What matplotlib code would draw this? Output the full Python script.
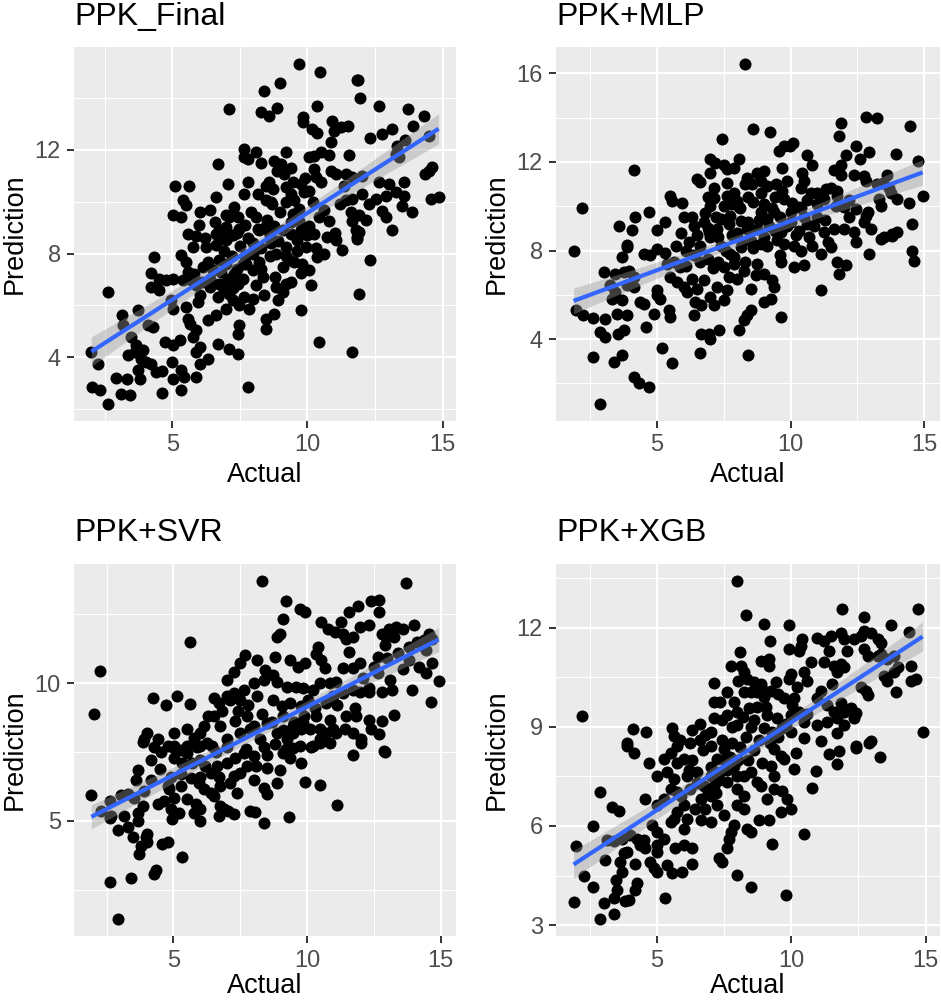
import numpy as np
import matplotlib.pyplot as plt
from matplotlib.ticker import FixedLocator

plt.rcParams['font.family'] = ['Liberation Sans', 'DejaVu Sans']

# (actual, prediction) pairs
final_pts = [
    (9.67, 15.32), (10.45, 15.02), (11.82, 14.71), (11.88, 14.71), (11.93, 13.99), (9.0, 14.57), (8.38, 14.29),
    (7.11, 13.58), (10.37, 13.71), (8.28, 13.45), (8.59, 13.32), (8.87, 13.61), (9.84, 13.29), (9.84, 13.07),
    (10.18, 12.81), (10.37, 12.66), (12.64, 13.71), (13.72, 13.58), (14.3, 13.3), (13.9, 12.94), (13.13, 12.81),
    (12.76, 12.62), (12.33, 12.46), (10.92, 13.13), (11.23, 12.87), (11.51, 12.94), (10.98, 12.75), (10.86, 12.3),
    (11.53, 11.82), (13.32, 12.17), (13.62, 12.39), (13.38, 11.72), (13.26, 11.85), (14.48, 12.55), (7.67, 12.04),
    (8.1, 11.91), (7.79, 11.65), (7.67, 11.72), (9.2, 11.91), (10.49, 11.91), (10.8, 11.82), (10.25, 11.78),
    (10.06, 11.72), (8.77, 11.59), (9.02, 11.46), (8.89, 11.2), (9.14, 11.07), (6.68, 11.46), (7.79, 10.75),
    (7.05, 10.69), (8.59, 10.75), (8.71, 10.5), (8.46, 10.62), (10.25, 11.27), (10.31, 10.95), (10.49, 10.75),
    (10.86, 11.2), (11.04, 11.07), (11.41, 11.07), (11.66, 10.95), (12.03, 11.01), (12.64, 10.75), (13.01, 10.69),
    (14.48, 11.2), (14.61, 11.33), (14.36, 11.07), (13.56, 10.75), (5.12, 10.62), (5.61, 10.62), (5.39, 10.05),
    (5.52, 9.89), (6.01, 9.59), (6.62, 10.17), (7.67, 10.3), (8.16, 10.3), (8.46, 10.05), (8.65, 9.98), (9.2, 10.56),
    (9.45, 10.75), (9.39, 10.3), (9.75, 10.69), (9.88, 10.37), (10.06, 10.43), (9.2, 9.98), (9.5, 10.05), (9.69, 9.72),
    (11.35, 10.62), (11.41, 10.05), (11.66, 10.11), (12.03, 10.3), (12.27, 9.92), (12.52, 10.11), (12.89, 10.24),
    (13.26, 10.37), (13.56, 10.24), (14.55, 10.11), (14.85, 10.17), (12.76, 9.66), (12.89, 9.4), (13.5, 9.85),
    (13.87, 9.59), (5.02, 9.47), (5.33, 9.4), (5.58, 8.76), (5.88, 8.69), (7.11, 9.4), (7.42, 9.4), (7.48, 8.95),
    (6.99, 9.02), (6.74, 8.89), (6.62, 8.76), (7.11, 8.69), (8.16, 8.95), (8.46, 9.08), (8.77, 9.08), (8.53, 8.89),
    (9.45, 9.53), (9.69, 9.27), (9.75, 8.89), (9.39, 8.76), (10.06, 9.08), (10.43, 9.4), (10.8, 9.27), (11.6, 9.59),
    (11.66, 9.27), (11.78, 8.89), (11.84, 8.57), (11.9, 9.5), (12.15, 9.3), (13.13, 8.89), (5.76, 8.24), (6.25, 8.24),
    (2.01, 4.19), (2.26, 3.74), (2.05, 2.86), (2.32, 2.74), (2.63, 2.19), (2.63, 6.52), (3.12, 2.58), (3.45, 2.52),
    (2.94, 3.19), (3.33, 3.14), (3.16, 5.61), (3.19, 5.23), (3.73, 5.81), (3.49, 4.77), (3.67, 4.45), (3.37, 4.06),
    (3.61, 4.19), (3.92, 4.26), (3.86, 3.94), (3.73, 3.48), (3.8, 3.16), (4.04, 3.81), (4.23, 3.74), (4.41, 3.42),
    (4.63, 3.46), (4.63, 2.61), (4.1, 5.23), (4.29, 5.16), (4.23, 6.71), (4.53, 6.58), (4.31, 7.87), (4.23, 7.23),
    (4.53, 7.03), (4.78, 6.97), (5.02, 7.03), (4.72, 4.58), (5.02, 4.45), (5.27, 4.65), (5.0, 3.81), (5.02, 3.16),
    (5.33, 3.48), (5.45, 3.23), (5.33, 2.74), (4.96, 6.19), (5.02, 5.87), (5.33, 7.94), (5.52, 7.68), (5.58, 7.29),
    (5.39, 6.97), (5.7, 6.97), (5.52, 5.94), (5.58, 5.48), (5.64, 5.29), (5.88, 6.77), (6.01, 6.39), (5.95, 6.13),
    (5.88, 5.03), (5.76, 4.77), (6.01, 4.39), (5.88, 4.19), (6.01, 3.74), (5.88, 3.23), (6.31, 3.94), (6.31, 5.42),
    (6.62, 5.61), (6.68, 4.52), (6.13, 7.48), (6.31, 7.68), (6.5, 7.35), (6.74, 7.74), (6.99, 7.61), (6.62, 8.32),
    (6.99, 8.52), (7.24, 8.71), (6.38, 6.71), (6.74, 6.84), (7.11, 6.45), (7.24, 6.65), (7.42, 6.84), (6.99, 5.87),
    (7.24, 6.19), (7.48, 6.0), (7.67, 6.32), (7.85, 5.87), (7.97, 6.26), (7.11, 4.32), (7.42, 4.13), (7.42, 4.9),
    (7.48, 5.23), (7.79, 2.84), (7.73, 7.61), (7.97, 7.35), (8.22, 7.68), (8.34, 7.1), (8.1, 6.77), (8.46, 5.48),
    (8.46, 5.1), (8.77, 5.68), (8.65, 8.39), (8.83, 8.0), (9.2, 8.26), (9.33, 7.74), (9.08, 7.48), (8.83, 6.71),
    (9.08, 6.52), (9.2, 6.84), (9.63, 8.52), (10.0, 8.71), (10.25, 8.77), (9.94, 8.26), (9.51, 7.68), (9.75, 7.23),
    (10.06, 7.35), (10.12, 6.77), (9.75, 5.81), (10.43, 4.58), (10.37, 7.87), (10.61, 8.0), (10.74, 8.65),
    (11.04, 8.52), (11.29, 8.13), (11.84, 8.65), (11.9, 8.84), (12.33, 7.74), (11.9, 6.45), (11.66, 4.19),
    (6.9, 8.1), (7.2, 7.9), (7.5, 8.3), (7.8, 8.6), (8.0, 8.0), (7.3, 7.2), (7.6, 7.0), (6.8, 7.3), (7.0, 6.9),
    (8.2, 8.9), (8.5, 9.3), (7.9, 9.6), (7.3, 9.8), (6.6, 9.2), (6.2, 8.6), (6.9, 8.6), (7.6, 7.6), (8.3, 7.4),
    (8.8, 7.1), (9.2, 7.9), (9.6, 8.1), (8.6, 8.7),
    (5.8, 7.2), (6.1, 6.9), (6.4, 7.0), (6.7, 6.3), (6.9, 6.6), (7.1, 7.0), (7.4, 7.4), (7.7, 7.9), (8.0, 8.4),
    (8.3, 8.2), (8.6, 7.9), (8.9, 8.5), (9.1, 8.9), (9.4, 9.2), (9.0, 9.6), (8.7, 9.9), (8.1, 9.4), (7.7, 9.1),
    (7.4, 8.8), (7.0, 9.5), (6.4, 9.7), (6.0, 9.1), (8.4, 6.4), (8.9, 6.2), (9.4, 6.9), (9.8, 7.6), (10.3, 8.2),
    (10.6, 9.7), (11.2, 9.9), (11.0, 8.8), (10.2, 10.0), (9.9, 10.9), (9.4, 11.3), (8.3, 11.5),
]

mlp_pts = [
    (8.31, 16.42), (12.81, 14.04), (13.23, 13.99), (14.48, 13.62), (11.9, 13.77), (11.81, 13.17), (8.6, 13.47),
    (9.23, 13.34), (7.44, 13.03), (9.75, 12.7), (10.1, 12.85), (9.98, 12.7), (9.56, 12.48), (10.63, 12.33),
    (10.81, 11.88), (12.44, 12.7), (12.06, 12.33), (12.6, 12.13), (12.94, 12.45), (13.94, 12.37), (14.75, 12.03),
    (4.15, 11.66), (7.0, 12.15), (7.19, 11.96), (7.0, 11.51), (7.5, 11.88), (7.63, 11.69), (7.88, 11.73),
    (8.06, 12.15), (6.5, 11.21), (6.6, 11.09), (8.38, 11.29), (8.75, 11.51), (9.0, 11.58), (8.88, 11.14),
    (8.56, 10.99), (8.31, 10.99), (9.69, 11.73), (10.44, 11.51), (10.5, 11.14), (11.63, 11.66), (11.88, 11.85),
    (11.88, 11.39), (12.38, 11.43), (12.75, 11.36), (13.6, 11.43), (13.44, 11.06), (7.63, 11.06), (7.13, 10.84),
    (7.13, 10.39), (7.0, 10.02), (9.88, 11.14), (9.44, 10.99), (9.13, 10.91), (9.69, 10.69), (10.38, 10.84),
    (10.75, 10.62), (11.0, 10.62), (11.31, 10.77), (11.5, 10.84), (11.75, 10.69), (12.81, 11.14), (13.25, 10.99),
    (13.69, 10.84), (13.75, 10.62), (5.5, 10.47), (5.94, 10.14), (5.56, 10.25), (7.63, 10.47), (8.0, 10.25),
    (7.5, 10.02), (8.06, 9.95), (9.75, 10.32), (10.06, 10.17), (10.31, 9.95), (10.0, 9.72), (11.25, 10.32),
    (11.75, 10.47), (12.0, 9.95), (12.44, 9.87), (12.88, 9.72), (13.31, 10.32), (13.38, 10.02), (13.99, 10.32),
    (14.44, 10.17), (14.94, 10.47), (14.56, 9.21), (2.19, 9.92), (4.69, 9.75), (4.19, 9.5), (4.06, 8.95),
    (3.58, 9.13), (6.0, 9.5), (5.31, 9.28), (5.0, 8.91), (6.38, 9.13), (6.75, 9.28), (6.94, 8.83), (7.25, 8.98),
    (7.38, 9.43), (7.75, 9.58), (8.13, 9.35), (8.38, 8.98), (8.75, 8.98), (8.88, 9.72), (9.13, 9.43), (9.38, 9.72),
    (9.63, 8.83), (9.88, 9.13), (10.5, 9.5), (10.88, 9.13), (11.25, 8.83), (11.63, 8.98), (12.0, 8.98),
    (12.19, 9.5), (12.38, 8.83), (12.75, 9.28), (12.81, 9.58), (13.0, 8.98), (13.38, 8.54), (13.81, 8.76),
    (14.0, 8.83), (3.88, 8.24),
    (1.88, 8.0), (1.98, 5.3), (2.25, 5.08), (2.6, 4.97), (3.06, 4.93), (2.88, 4.33), (3.06, 4.1), (2.59, 3.21),
    (2.88, 1.08), (3.38, 2.98), (3.69, 3.28), (4.13, 2.31), (4.31, 2.01), (4.69, 1.86), (3.56, 4.25), (3.75, 4.4),
    (3.5, 5.15), (3.88, 5.08), (3.0, 7.03), (3.44, 6.95), (3.75, 7.03), (3.94, 7.1), (4.13, 6.8), (3.25, 6.43),
    (3.44, 6.13), (3.69, 5.75), (3.31, 5.83), (3.69, 7.7), (3.88, 8.15), (3.88, 6.43), (4.13, 6.35), (4.38, 5.68),
    (4.5, 5.6), (4.6, 4.55), (4.88, 5.15), (5.0, 5.98), (5.13, 5.83), (5.0, 6.2), (4.5, 7.85), (4.75, 7.78),
    (5.0, 8.07), (5.19, 3.58), (5.56, 2.91), (5.44, 5.3), (5.5, 5.0), (5.38, 7.4), (5.63, 7.48), (5.88, 7.25),
    (5.5, 6.8), (5.75, 6.58), (6.0, 6.35), (6.13, 6.13), (6.31, 6.73), (6.5, 6.28), (6.44, 5.68), (6.38, 5.08),
    (6.63, 5.53), (6.63, 4.25), (6.94, 4.25), (7.0, 4.03), (7.31, 4.4), (6.6, 3.36), (8.06, 4.4), (8.25, 4.85),
    (8.38, 5.08), (8.41, 3.28), (8.5, 5.3), (8.5, 6.28), (7.0, 5.9), (7.5, 5.75), (7.13, 5.53), (7.25, 6.35),
    (7.63, 6.2), (6.75, 6.65), (7.5, 7.25), (7.88, 7.4), (8.25, 7.1), (8.75, 7.4), (7.75, 7.85), (8.13, 8.15),
    (8.5, 8.45), (8.88, 8.3), (9.0, 6.95), (9.31, 6.65), (9.38, 6.35), (9.25, 5.83), (9.0, 5.68), (9.63, 5.0),
    (9.63, 7.48), (9.75, 8.3), (10.13, 8.22), (10.13, 7.25), (10.5, 7.33), (11.13, 6.2), (11.13, 7.85),
    (11.5, 8.15), (11.75, 7.48), (12.06, 7.33), (11.81, 6.95), (12.44, 8.37), (12.94, 7.85), (13.5, 8.6),
    (13.81, 8.67), (14.56, 8.0), (14.63, 7.55),
    (6.2, 8.4), (6.6, 8.2), (7.0, 8.6), (7.4, 8.2), (7.8, 8.7), (8.2, 8.4), (8.6, 8.1), (9.0, 8.6), (9.4, 8.9),
    (6.8, 9.7), (7.2, 9.5), (7.7, 9.2), (8.1, 9.9), (8.4, 10.4), (9.0, 10.1), (9.3, 9.9), (6.4, 7.8), (6.9, 7.6),
    (7.3, 7.5), (5.9, 8.8), (6.3, 9.5), (7.9, 10.6), (8.9, 10.6), (10.2, 8.7), (10.7, 8.6), (11.0, 9.5),
    (10.4, 9.9), (5.3, 7.9), (6.1, 7.3), (7.7, 6.8), (8.0, 6.7), (8.7, 6.9), (9.6, 7.8), (10.8, 8.2), (11.4, 8.4),
    (6.1, 8.0), (6.5, 8.7), (6.9, 9.0), (7.3, 8.6), (7.6, 8.0), (8.0, 8.8), (8.4, 9.3), (8.8, 9.4), (9.2, 9.1),
    (9.6, 9.5), (10.0, 9.3), (10.3, 8.9), (10.6, 9.2), (11.0, 10.1), (11.3, 9.4), (11.7, 10.0), (12.2, 10.3),
    (9.1, 8.2), (9.5, 8.5), (10.4, 8.0), (6.6, 7.5), (7.1, 7.2), (7.9, 7.7), (8.3, 7.5), (5.7, 8.2), (6.9, 10.4),
    (7.8, 10.1), (8.6, 10.2), (9.4, 10.4), (10.6, 10.3),
]

svr_pts = [
    (8.33, 13.73), (13.69, 13.63), (9.21, 13.0), (12.39, 13.0), (12.7, 13.04), (12.7, 12.58), (11.89, 12.8),
    (11.58, 12.58), (11.27, 12.22), (9.73, 12.7), (9.91, 12.58), (9.11, 12.34), (8.98, 11.8), (8.86, 11.68),
    (10.53, 12.22), (10.78, 11.98), (11.03, 11.86), (11.34, 11.8), (11.96, 12.05), (12.33, 12.11), (11.46, 11.62),
    (11.71, 11.68), (12.82, 11.8), (13.07, 11.98), (13.32, 12.05), (13.57, 11.98), (14.0, 12.11), (13.25, 11.68),
    (12.95, 11.68), (14.37, 11.56), (14.55, 11.8), (14.68, 11.62), (5.62, 11.5), (2.24, 10.46), (2.03, 8.88),
    (10.41, 11.32), (10.35, 11.08), (10.53, 10.84), (10.66, 10.54), (11.58, 11.14), (11.34, 10.54), (11.96, 10.72),
    (11.71, 10.54), (12.64, 10.96), (13.81, 11.32), (13.81, 10.84), (14.18, 10.6), (14.43, 11.2), (14.43, 10.36),
    (14.68, 10.72), (14.92, 10.08), (14.62, 9.31), (13.94, 9.74), (13.19, 9.74), (12.82, 9.7), (12.64, 10.36),
    (12.33, 9.82), (7.69, 11.02), (8.12, 10.84), (7.5, 10.72), (7.25, 10.42), (7.0, 10.12), (8.8, 10.96),
    (9.36, 10.84), (9.67, 10.6), (9.91, 10.72), (8.43, 10.48), (8.74, 10.3), (8.0, 10.0), (7.63, 9.76),
    (7.25, 9.64), (7.13, 9.4), (7.5, 9.4), (8.12, 9.52), (8.37, 10.12), (8.86, 10.06), (9.23, 9.88), (9.6, 9.88),
    (9.85, 9.82), (10.22, 9.76), (10.47, 10.0), (10.84, 10.0), (11.09, 10.06), (10.97, 9.52), (11.34, 9.64),
    (11.71, 9.76), (11.96, 9.7), (12.33, 9.7), (4.22, 9.46), (4.72, 9.22), (5.12, 9.54), (5.62, 9.26),
    (6.51, 9.46), (6.7, 9.28), (7.0, 9.52), (8.74, 9.4), (9.05, 9.16), (9.36, 9.28), (9.79, 9.16), (10.04, 9.4),
    (6.51, 8.8), (6.14, 8.44), (6.76, 8.44), (7.31, 8.62), (7.75, 8.8), (8.0, 8.44), (8.49, 8.56), (9.11, 8.8),
    (9.48, 8.44), (9.85, 8.56), (10.35, 8.8), (10.84, 8.68), (11.46, 8.8), (11.83, 8.8), (11.4, 8.32),
    (12.33, 8.68), (12.82, 8.62), (13.25, 8.86), (10.47, 8.32), (10.72, 8.2), (10.97, 8.32), (12.39, 8.32),
    (12.7, 8.14), (12.02, 7.96), (11.71, 8.2), (12.88, 7.54), (4.03, 8.2), (3.91, 7.96), (4.41, 7.96), (5.02, 8.2),
    (5.52, 8.32), (5.77, 8.02), (6.01, 8.2), (4.78, 7.72), (5.02, 7.72), (5.52, 7.72), (6.01, 7.72), (6.45, 7.72),
    (7.0, 7.96), (7.5, 8.2), (7.87, 8.32), (8.24, 7.96), (8.86, 8.2), (9.23, 7.96), (9.48, 8.2), (9.79, 8.32),
    (10.1, 8.32), (10.47, 7.96), (9.73, 7.72), (10.22, 7.72), (10.84, 7.84), (11.09, 8.2),
    (1.93, 5.93), (2.3, 5.36), (2.61, 5.12), (2.61, 5.72), (3.04, 5.93), (3.29, 5.96), (2.67, 5.18), (2.92, 4.68),
    (3.29, 4.76), (3.48, 4.4), (3.66, 5.0), (3.79, 4.1), (3.73, 3.8), (4.03, 4.52), (4.01, 4.22), (3.97, 4.4),
    (4.59, 4.16), (4.78, 4.22), (5.33, 3.7), (4.26, 3.08), (4.35, 3.2), (3.41, 2.92), (2.61, 2.78), (2.92, 1.42),
    (3.17, 5.18), (3.66, 5.3), (3.54, 5.84), (3.85, 5.54), (3.91, 6.08), (3.6, 6.5), (3.66, 6.86), (4.16, 6.5),
    (4.16, 7.22), (4.41, 5.6), (4.66, 5.72), (4.96, 5.06), (4.9, 5.42), (5.21, 5.3), (5.02, 5.84), (3.85, 7.88),
    (4.28, 7.7), (4.53, 7.52), (5.02, 7.28), (5.33, 7.1), (5.27, 7.58), (5.02, 7.64), (4.78, 6.26), (4.84, 6.14),
    (5.27, 6.26), (5.52, 5.78), (5.83, 5.6), (6.01, 5.42), (6.01, 5.0), (5.77, 5.3), (5.64, 6.56), (5.95, 6.38),
    (6.14, 6.14), (6.39, 6.02), (6.76, 6.26), (5.52, 7.46), (5.89, 7.7), (6.26, 7.82), (6.01, 7.22), (6.39, 6.74),
    (6.63, 6.98), (7.0, 7.1), (7.25, 6.62), (7.5, 6.74), (7.13, 6.38), (6.51, 5.9), (6.76, 5.54), (6.88, 5.42),
    (6.7, 5.18), (7.06, 5.36), (7.25, 5.24), (7.37, 6.02), (7.87, 5.36), (8.06, 5.32), (8.4, 4.94), (9.31, 5.14),
    (11.11, 5.56), (9.91, 6.41), (10.5, 6.32), (8.49, 6.92), (8.99, 6.86), (8.86, 6.38), (8.49, 5.96),
    (8.37, 6.2), (8.0, 6.5), (7.75, 6.98), (7.63, 7.46), (8.0, 7.34), (8.37, 7.7), (9.11, 7.46), (9.36, 7.28),
    (9.48, 7.64), (9.79, 7.1), (10.16, 7.7), (10.47, 7.82), (11.71, 7.4), (12.02, 7.82), (12.91, 7.5),
    (5.3, 6.7), (5.7, 7.1), (6.2, 7.0), (6.6, 7.5), (7.0, 7.7), (7.3, 7.3), (7.7, 7.6), (8.1, 7.0), (8.5, 7.4),
    (8.8, 7.8), (9.2, 7.6), (9.5, 8.6), (9.9, 8.8), (10.3, 9.1), (10.7, 9.3), (11.1, 9.2), (6.3, 8.8), (6.8, 9.0),
    (7.4, 9.0), (7.8, 9.2), (8.3, 8.9), (8.7, 8.6), (9.1, 8.3), (6.0, 6.6), (6.7, 6.6), (4.5, 6.9), (4.9, 6.6),
    (11.8, 9.1), (12.1, 10.2), (12.5, 10.6), (13.0, 10.9), (13.4, 11.1), (13.6, 10.5), (13.1, 10.1),
    (14.1, 11.5), (12.9, 11.4),
]

xgb_pts = [
    (7.99, 13.43), (8.3, 12.4), (11.9, 12.58), (14.7, 12.58), (8.98, 12.12), (9.91, 12.08), (12.71, 12.33),
    (13.71, 12.08), (14.39, 11.87), (11.84, 11.85), (11.97, 11.65), (12.34, 11.65), (12.59, 11.75), (12.71, 11.9),
    (12.96, 11.85), (13.21, 11.65), (13.33, 11.55), (10.97, 11.7), (11.22, 11.6), (11.47, 11.75), (10.41, 11.65),
    (10.35, 11.45), (9.2, 11.6), (9.91, 11.35), (10.29, 11.3), (8.08, 11.27), (11.41, 11.3), (12.09, 11.3),
    (12.71, 11.35), (12.84, 11.15), (13.21, 11.15), (13.33, 11.2), (13.58, 11.05), (13.83, 11.15), (8.86, 11.0),
    (9.17, 11.05), (9.17, 10.85), (7.74, 10.85), (8.11, 10.85), (10.72, 10.95), (11.22, 10.95), (11.59, 10.85),
    (11.84, 10.9), (11.72, 10.65), (11.97, 10.8), (10.47, 10.65), (10.6, 10.4), (9.98, 10.6), (9.91, 10.45),
    (13.46, 10.55), (13.58, 10.4), (13.83, 10.65), (13.96, 10.8), (13.9, 10.06), (14.45, 10.85), (14.45, 10.4),
    (14.64, 10.45), (12.59, 10.2), (12.84, 9.96), (12.78, 10.1), (8.23, 10.65), (8.36, 10.45), (8.61, 10.36),
    (8.86, 10.3), (8.98, 10.1), (9.23, 10.1), (9.42, 10.36), (8.73, 10.06), (8.49, 10.06), (8.23, 10.06),
    (7.11, 10.33), (7.61, 10.06), (7.36, 9.76), (7.11, 9.76), (7.86, 9.76), (7.99, 9.46), (8.42, 9.56),
    (8.73, 9.61), (9.04, 9.61), (9.73, 9.86), (10.1, 9.86), (10.04, 9.66), (10.29, 9.46), (9.98, 9.36),
    (10.97, 9.86), (11.34, 9.66), (11.59, 9.46), (11.84, 9.71), (11.97, 9.46), (12.21, 9.56), (12.34, 9.26),
    (12.4, 9.41), (11.72, 9.26), (10.47, 9.16), (10.97, 9.06), (11.34, 9.16), (11.97, 9.06), (2.2, 9.33),
    (4.09, 8.93), (4.59, 8.83), (3.88, 8.51), (5.56, 8.96), (5.62, 8.71), (5.87, 8.61), (6.59, 9.08), (6.8, 8.76),
    (6.99, 8.86), (7.43, 9.21), (7.11, 9.26), (7.61, 9.36), (7.99, 9.06), (8.61, 9.21), (9.1, 9.36), (9.48, 9.26),
    (8.98, 8.96), (9.29, 8.86), (9.66, 8.96), (9.98, 8.86), (10.47, 8.66), (11.09, 8.56), (11.72, 8.81),
    (12.4, 8.41), (12.96, 8.56), (14.89, 8.83),
    (1.89, 3.7), (1.99, 5.4), (2.29, 4.47), (2.61, 4.15), (2.61, 5.99), (2.89, 7.04), (3.01, 3.67), (2.89, 3.17),
    (3.38, 3.32), (3.07, 4.97), (3.13, 5.57), (3.38, 5.54), (3.32, 6.57), (3.57, 6.44), (3.38, 3.82), (3.51, 4.07),
    (3.48, 4.37), (3.69, 4.62), (3.63, 4.92), (3.76, 5.17), (3.82, 3.72), (3.94, 3.77), (4.19, 4.07), (4.26, 4.27),
    (4.19, 4.84), (3.88, 5.22), (3.69, 5.62), (4.0, 5.72), (4.25, 5.62), (4.38, 5.42), (4.56, 5.32), (4.5, 5.57),
    (4.56, 6.82), (4.75, 4.92), (4.88, 4.72), (5.0, 4.62), (4.81, 6.02), (5.0, 5.82), (5.0, 5.42), (5.0, 5.22),
    (5.25, 5.62), (5.37, 4.82), (5.56, 4.57), (5.93, 4.62), (5.68, 5.32), (6.0, 5.42), (6.31, 5.32), (6.31, 4.84),
    (5.31, 3.82), (5.5, 6.12), (5.62, 6.22), (5.75, 6.42), (6.0, 5.92), (6.12, 6.22), (6.0, 6.62), (5.0, 6.62),
    (5.25, 6.82), (5.5, 7.12), (5.75, 7.02), (5.62, 7.42), (5.37, 7.62), (5.0, 7.52), (5.25, 8.02), (5.75, 7.92),
    (6.0, 8.02), (5.5, 8.22), (5.75, 8.42), (6.24, 8.52), (4.69, 7.92), (3.88, 8.42), (4.13, 8.22), (6.12, 7.52),
    (6.49, 7.62), (6.24, 7.12), (6.62, 6.82), (6.62, 6.17), (6.99, 6.12), (6.74, 7.22), (6.99, 6.92), (7.24, 6.62),
    (7.49, 6.32), (7.11, 7.22), (7.3, 5.02), (7.43, 4.92), (7.61, 5.32), (7.67, 5.62), (7.86, 6.02), (7.74, 5.82),
    (7.99, 4.52), (8.48, 4.14), (8.36, 5.92), (8.48, 5.82), (8.79, 6.17), (9.17, 6.17), (9.29, 5.44), (9.6, 6.42),
    (9.79, 3.92), (10.47, 5.77), (9.98, 6.52), (10.78, 7.14), (7.36, 7.62), (7.61, 7.32), (7.86, 7.82),
    (7.99, 7.12), (8.23, 6.92), (7.99, 6.62), (8.23, 6.52), (7.24, 8.02), (6.99, 8.42), (7.49, 8.32), (7.99, 7.52),
    (8.23, 7.52), (8.48, 7.62), (8.73, 7.32), (8.86, 7.22), (9.1, 6.82), (9.35, 7.12), (9.67, 7.07), (9.85, 6.82),
    (9.35, 7.52), (9.23, 7.82), (9.73, 8.02), (9.35, 8.32), (9.6, 8.12), (10.1, 7.72), (10.16, 8.22),
    (10.91, 7.67), (11.41, 8.17), (11.72, 7.87), (11.78, 8.27), (12.4, 8.37), (12.9, 8.5), (13.31, 8.1),
    (6.3, 8.0), (6.7, 8.3), (7.0, 7.8), (7.4, 8.6), (7.7, 8.1), (8.1, 8.4), (8.4, 8.0), (8.8, 8.6), (6.5, 7.3),
    (6.9, 7.0), (7.3, 7.4),
    (5.9, 6.9), (6.2, 7.7), (6.4, 6.5), (6.8, 6.5), (7.0, 7.5), (7.2, 7.0), (7.6, 7.7), (7.8, 8.5), (8.0, 8.0),
    (8.3, 8.7), (8.6, 8.3), (8.9, 7.9), (9.2, 8.5), (9.5, 8.7), (9.8, 9.1), (8.5, 9.0), (8.2, 9.3), (7.8, 9.0),
    (7.5, 8.0), (6.6, 8.6), (6.3, 8.9), (9.0, 9.9), (9.5, 10.0), (10.6, 9.4), (11.1, 10.1), (11.5, 10.3),
    (10.2, 10.2), (8.0, 10.4),
]

titles = ["PPK_Final", "PPK+MLP", "PPK+SVR", "PPK+XGB"]
x_major = [5, 10, 15]
x_minor = [2.5, 7.5, 12.5]
y_major = [[4, 8, 12], [4, 8, 12, 16], [5, 10], [3, 6, 9, 12]]
y_minor = [[2, 6, 10, 14], [2, 6, 10, 14], [2.5, 7.5, 12.5], [4.5, 7.5, 10.5, 13.5]]

fig = plt.figure(figsize=(9.41, 10.02), dpi=100)
boxes = [
    (0.0786, 0.580, 0.406, 0.373),
    (0.591, 0.580, 0.408, 0.373),
    (0.0786, 0.0655, 0.406, 0.372),
    (0.591, 0.0655, 0.408, 0.372),
]

for i, pts in enumerate([final_pts, mlp_pts, svr_pts, xgb_pts]):
    ax = fig.add_axes(boxes[i])
    data = np.array(pts)
    x, y = data[:, 0], data[:, 1]

    ax.scatter(x, y, s=75, c='black', linewidths=0, zorder=3)

    # linear fit with 95% confidence band (geom_smooth(method = "lm"))
    n = len(x)
    b, a = np.polyfit(x, y, 1)
    resid = y - (a + b * x)
    s = np.sqrt(np.sum(resid ** 2) / (n - 2))
    xs = np.linspace(x.min(), x.max(), 100)
    se = s * np.sqrt(1 / n + (xs - x.mean()) ** 2 / np.sum((x - x.mean()) ** 2))
    fit = a + b * xs
    ax.fill_between(xs, fit - 1.97 * se, fit + 1.97 * se, color='#999999', alpha=0.4, lw=0, zorder=4)
    ax.plot(xs, fit, color='#3366FF', lw=3.0, zorder=5, solid_capstyle='butt')

    xr = x.max() - x.min()
    yr = y.max() - y.min()
    ax.set_xlim(x.min() - 0.05 * xr, x.max() + 0.05 * xr)
    ax.set_ylim(y.min() - 0.05 * yr, y.max() + 0.05 * yr)

    ax.xaxis.set_major_locator(FixedLocator(x_major))
    ax.xaxis.set_minor_locator(FixedLocator(x_minor))
    ax.yaxis.set_major_locator(FixedLocator(y_major[i]))
    ax.yaxis.set_minor_locator(FixedLocator(y_minor[i]))

    ax.set_facecolor('#EBEBEB')
    for sp in ax.spines.values():
        sp.set_visible(False)
    ax.set_axisbelow(True)
    ax.grid(which='major', color='white', lw=1.5)
    ax.grid(which='minor', color='white', lw=0.75)
    ax.tick_params(which='minor', length=0)
    ax.tick_params(which='major', length=5, width=1.4, color='#333333',
                   labelsize=17, labelcolor='#4D4D4D', pad=4.5)

    ax.set_title(titles[i], loc='left', fontsize=23, pad=16)
    # bottom row sits right at the figure edge, so its x label is pulled in a little
    ax.set_xlabel("Actual", fontsize=19.5, labelpad=4 if i < 2 else 1)
    ax.set_ylabel("Prediction", fontsize=19.5, labelpad=5)

fig.savefig("out.png", dpi=100)
